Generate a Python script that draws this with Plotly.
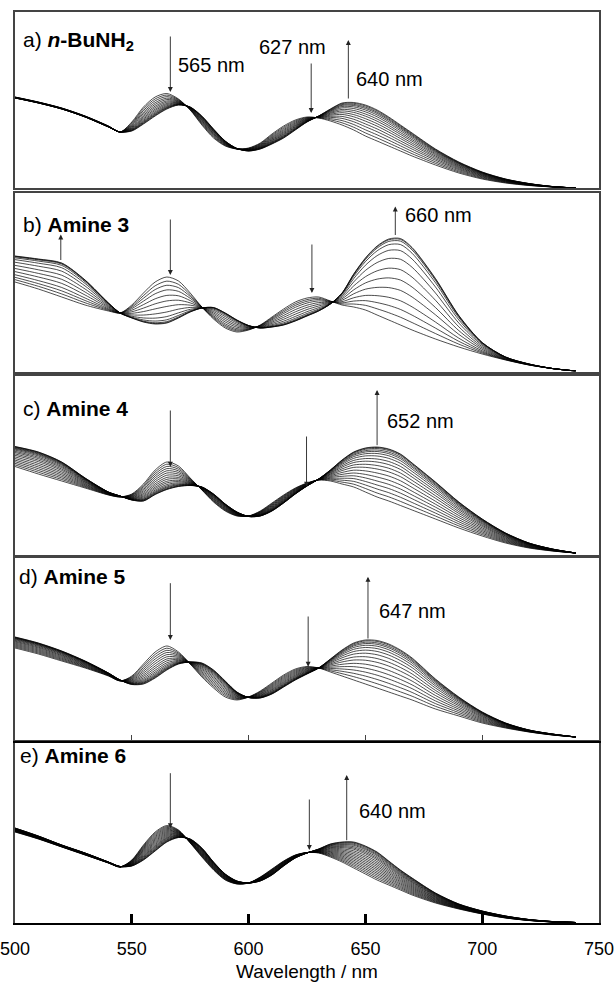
import numpy as np
import plotly.graph_objects as go
from plotly.subplots import make_subplots

# ---------------- data ----------------
WAVELENGTH = [500, 510, 520, 530, 540, 545, 550, 555, 560, 565, 570, 575, 580, 585, 590,
              595, 600, 605, 610, 615, 620, 625, 630, 635, 640, 645, 650, 655, 660, 665,
              670, 680, 690, 700, 710, 720, 730, 740]

# a) n-BuNH2 : first and last spectrum of the titration
A_START = [0.91, 0.86, 0.80, 0.72, 0.62, 0.56, 0.66, 0.81, 0.91, 0.945, 0.89, 0.78, 0.63, 0.50, 0.42,
           0.39, 0.40, 0.45, 0.54, 0.62, 0.68, 0.71, 0.70, 0.67, 0.63, 0.58, 0.52, 0.47, 0.42, 0.37,
           0.32, 0.23, 0.15, 0.09, 0.05, 0.025, 0.01, 0.0]
A_END = [0.90, 0.85, 0.79, 0.71, 0.61, 0.56, 0.57, 0.64, 0.72, 0.79, 0.83, 0.81, 0.72, 0.59, 0.47,
         0.395, 0.37, 0.39, 0.44, 0.50, 0.58, 0.66, 0.72, 0.79, 0.85, 0.855, 0.83, 0.78, 0.71, 0.63,
         0.55, 0.39, 0.26, 0.16, 0.09, 0.045, 0.015, 0.0]
A_FRACTIONS = [0, 0.1, 0.2, 0.3, 0.39, 0.48, 0.56, 0.64, 0.71, 0.78, 0.84, 0.89, 0.93, 0.97, 1.0]

# b) Amine 3
B_START = [0.895, 0.825, 0.745, 0.665, 0.605, 0.585, 0.665, 0.785, 0.895, 0.945, 0.905, 0.785, 0.645, 0.525, 0.435,
           0.395, 0.415, 0.465, 0.545, 0.625, 0.695, 0.735, 0.745, 0.705, 0.665, 0.645, 0.615, 0.565, 0.515, 0.465,
           0.415, 0.325, 0.245, 0.175, 0.115, 0.065, 0.03, 0.005]
B_END = [1.155, 1.125, 1.085, 0.915, 0.685, 0.585, 0.535, 0.495, 0.475, 0.485, 0.535, 0.595, 0.635, 0.64, 0.585,
         0.515, 0.46, 0.435, 0.445, 0.465, 0.505, 0.555, 0.605, 0.675, 0.785, 0.975, 1.135, 1.255, 1.325, 1.33,
         1.24, 0.93, 0.56, 0.29, 0.145, 0.075, 0.03, 0.005]
B_FRACTIONS = [0, 0.09, 0.18, 0.28, 0.4, 0.52, 0.64, 0.76, 0.86, 0.93, 0.97, 0.99, 1.0]

# c) Amine 4
C_START = [0.88, 0.805, 0.735, 0.665, 0.595, 0.575, 0.605, 0.705, 0.845, 0.925, 0.885, 0.765, 0.645, 0.525, 0.435,
           0.385, 0.385, 0.435, 0.515, 0.595, 0.665, 0.715, 0.745, 0.735, 0.705, 0.675, 0.625, 0.575, 0.535, 0.49,
           0.445, 0.355, 0.265, 0.185, 0.115, 0.065, 0.035, 0.015]
C_END = [1.08, 1.025, 0.925, 0.765, 0.625, 0.585, 0.545, 0.535, 0.60, 0.65, 0.68, 0.69, 0.675, 0.605, 0.505,
         0.425, 0.38, 0.385, 0.435, 0.515, 0.605, 0.685, 0.755, 0.845, 0.945, 1.025, 1.065, 1.075, 1.055, 1.005,
         0.915, 0.725, 0.525, 0.355, 0.215, 0.115, 0.055, 0.015]
C_FRACTIONS = [0, 0.08, 0.16, 0.24, 0.32, 0.40, 0.48, 0.56, 0.63, 0.70, 0.76, 0.82, 0.87, 0.91, 0.94, 0.97, 0.99, 1.0]

# d) Amine 5
D_START = [0.92, 0.86, 0.79, 0.72, 0.64, 0.59, 0.64, 0.76, 0.88, 0.94, 0.88, 0.76, 0.63, 0.52, 0.43,
           0.40, 0.43, 0.49, 0.57, 0.65, 0.71, 0.735, 0.72, 0.68, 0.64, 0.60, 0.56, 0.52, 0.48, 0.44,
           0.40, 0.31, 0.24, 0.17, 0.12, 0.08, 0.05, 0.03]
D_END = [1.03, 0.97, 0.89, 0.79, 0.67, 0.60, 0.555, 0.56, 0.62, 0.70, 0.76, 0.78, 0.77, 0.70, 0.59,
         0.48, 0.425, 0.42, 0.46, 0.53, 0.60, 0.66, 0.72, 0.81, 0.90, 0.97, 1.00, 0.995, 0.96, 0.90,
         0.82, 0.61, 0.43, 0.28, 0.17, 0.10, 0.06, 0.03]
D_FRACTIONS = [0, 0.09, 0.18, 0.27, 0.36, 0.45, 0.54, 0.62, 0.70, 0.77, 0.83, 0.88, 0.92, 0.95, 0.98, 1.0]

# e) Amine 6
E_START = [0.91, 0.84, 0.76, 0.68, 0.60, 0.56, 0.63, 0.78, 0.91, 0.975, 0.93, 0.80, 0.66, 0.53, 0.43,
           0.39, 0.40, 0.46, 0.54, 0.62, 0.68, 0.705, 0.70, 0.66, 0.61, 0.55, 0.49, 0.43, 0.38, 0.33,
           0.28, 0.20, 0.14, 0.09, 0.05, 0.025, 0.01, 0.005]
E_END = [0.95, 0.87, 0.78, 0.70, 0.61, 0.565, 0.57, 0.63, 0.72, 0.81, 0.855, 0.84, 0.75, 0.61, 0.49,
         0.42, 0.40, 0.42, 0.48, 0.57, 0.65, 0.70, 0.74, 0.79, 0.81, 0.81, 0.77, 0.71, 0.62, 0.53,
         0.45, 0.30, 0.19, 0.12, 0.07, 0.035, 0.015, 0.005]
E_FRACTIONS = [0, 0.06, 0.12, 0.18, 0.24, 0.3, 0.36, 0.42, 0.48, 0.54, 0.6, 0.66, 0.72, 0.77, 0.82,
               0.87, 0.91, 0.95, 0.98, 1.0]

PANEL_LABELS = ["a) <b><i>n</i>-BuNH<sub>2</sub></b>", "b) <b>Amine 3</b>", "c) <b>Amine 4</b>",
                "d) <b>Amine 5</b>", "e) <b>Amine 6</b>"]

# arrows: (wavelength, tail absorbance, head absorbance)
A_ARROWS = [(566.5, 1.53, 0.96), (626.8, 1.26, 0.75), (642.7, 0.88, 1.48)]
B_ARROWS = [(519.6, 1.10, 1.37), (566.5, 1.535, 0.965), (627.1, 1.285, 0.785), (662.8, 1.35, 1.65)]
C_ARROWS = [(566.5, 1.455, 0.878), (624.8, 1.195, 0.678), (655.0, 1.078, 1.645)]
D_ARROWS = [(566.5, 1.583, 1.00), (625.5, 1.25, 0.733), (651.1, 1.00, 1.633)]
E_ARROWS = [(566.5, 1.513, 0.947), (626.0, 1.25, 0.73), (642.0, 0.813, 1.48)]

# band labels: (text, wavelength of left edge, absorbance)
A_TEXTS = [("565 nm", 568.8, 1.23), ("627 nm", 603.4, 1.405), ("640 nm", 645.3, 1.085)]
B_TEXTS = [("660 nm", 666.2, 1.565)]
C_TEXTS = [("652 nm", 658.5, 1.34)]
D_TEXTS = [("647 nm", 655.1, 1.295)]
E_TEXTS = [("640 nm", 646.2, 1.125)]

X_TICKS = [500, 550, 600, 650, 700, 750]

# ---------------- layout ----------------
W, H = 614, 982
FONT = "Liberation Sans, Arial, sans-serif"


def fy(px):
    return 1 - px / H


def fx(px):
    return px / W


PLOT_LEFT, PLOT_RIGHT = 15, 599
# (top px, bottom px) of each panel
PANEL_BOX = [(12, 188), (193, 371.5), (375.5, 554.5), (558.3, 740), (743, 923)]
LABEL_POS = [(21, 41), (21, 224), (21, 408.5), (17, 576.5), (18, 755)]

panels = [
    (A_START, A_END, A_FRACTIONS, A_ARROWS, A_TEXTS),
    (B_START, B_END, B_FRACTIONS, B_ARROWS, B_TEXTS),
    (C_START, C_END, C_FRACTIONS, C_ARROWS, C_TEXTS),
    (D_START, D_END, D_FRACTIONS, D_ARROWS, D_TEXTS),
    (E_START, E_END, E_FRACTIONS, E_ARROWS, E_TEXTS),
]

fig = make_subplots(rows=5, cols=1)
annotations = []
for i, (start, end, fracs, arrows, texts) in enumerate(panels):
    r = i + 1
    s = np.array(start)
    e = np.array(end)
    for f in fracs:
        fig.add_trace(go.Scatter(x=WAVELENGTH, y=(1 - f) * s + f * e, mode="lines",
                                 line=dict(color="black", width=0.7, shape="spline", smoothing=0.8),
                                 showlegend=False, hoverinfo="skip"), row=r, col=1)
    xr = "x" if r == 1 else f"x{r}"
    yr = "y" if r == 1 else f"y{r}"
    for (wl, tail, head) in arrows:
        annotations.append(dict(x=wl, y=head, ax=wl, ay=tail, xref=xr, yref=yr, axref=xr, ayref=yr,
                                text="", showarrow=True, arrowhead=2, arrowsize=1.1, arrowwidth=0.9,
                                arrowcolor="#222", standoff=0))
    for (t, wl, a) in texts:
        annotations.append(dict(x=wl, y=a, xref=xr, yref=yr, text=t, showarrow=False,
                                xanchor="left", yanchor="middle",
                                font=dict(family=FONT, size=20, color="#000")))
    lx, ly = LABEL_POS[i]
    annotations.append(dict(x=fx(lx), y=fy(ly), xref="paper", yref="paper", text=PANEL_LABELS[i],
                            showarrow=False, xanchor="left", yanchor="middle",
                            font=dict(family=FONT, size=21, color="#000")))

    top, bot = PANEL_BOX[i]
    height_units = (bot - top) / 100.0
    xa = dict(range=[500, 750], domain=[fx(PLOT_LEFT), fx(PLOT_RIGHT)], showline=True, mirror=True,
              linecolor="#444", linewidth=1.5, showgrid=False, zeroline=False, showticklabels=False,
              ticks="", fixedrange=True, automargin=False)
    if r == 4:
        xa.update(ticks="inside", ticklen=5, tickwidth=1, tickcolor="#444", tickvals=X_TICKS[1:-1])
    if r == 5:
        xa.update(ticks="inside", ticklen=9, tickwidth=3, tickcolor="black", linecolor="black",
                  linewidth=2, tickvals=X_TICKS, ticktext=[str(v) for v in X_TICKS],
                  showticklabels=True, ticklabeloverflow="allow",
                  tickfont=dict(family=FONT, size=18, color="#000"),
                  ticklabelstandoff=8,
                  title=dict(text="Wavelength / nm", font=dict(family=FONT, size=19, color="#000"),
                             standoff=8))
    ya = dict(range=[0, height_units], domain=[fy(bot), fy(top)], showline=True, mirror=True,
              linecolor="#444", linewidth=1.5, showgrid=False, zeroline=False, showticklabels=False,
              ticks="", fixedrange=True, automargin=False)
    fig.layout["xaxis" if r == 1 else f"xaxis{r}"].update(xa)
    fig.layout["yaxis" if r == 1 else f"yaxis{r}"].update(ya)

fig.update_layout(width=W, height=H, margin=dict(l=0, r=0, t=0, b=0, autoexpand=False),
                  paper_bgcolor="white", plot_bgcolor="white", annotations=annotations,
                  showlegend=False, font=dict(family=FONT, size=18, color="#000"))

fig.write_html("out.html")
